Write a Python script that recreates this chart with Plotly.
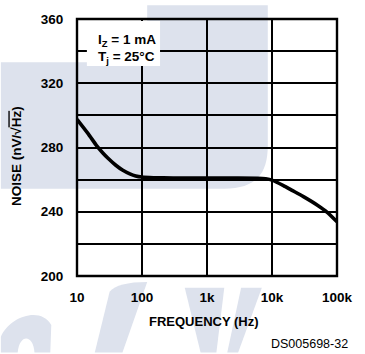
import plotly.graph_objects as go

# ---- data ----
freq_hz = [10, 15, 20, 25, 30, 40, 50, 65, 80, 100, 150, 300, 1000, 3000,
           6000, 8000, 10000, 15000, 20000, 30000, 50000, 70000, 100000]
noise_nv = [297.5, 288.3, 281.2, 276.6, 273.3, 268.8, 266, 263.6, 262.3, 261.6,
            261.2, 261, 261, 261, 260.9, 260.5, 259.7, 256.3, 253.5, 249.6,
            244.1, 239.8, 233.8]
x_tick_vals = [10, 100, 1000, 10000, 100000]
x_tick_text = ["10", "100", "1k", "10k", "100k"]
y_tick_vals = [200, 220, 240, 260, 280, 300, 320, 340, 360]
y_tick_text = ["200", "", "240", "", "280", "", "320", "", "360"]

W, H = 365, 354
L, R, T, B = 77, 25, 14, 78
PW, PH = W - L - R, H - T - B

def px(x):
    return (x - L) / PW

def py(y):
    return (H - B - y) / PH

FONT = "Liberation Sans, Arial, sans-serif"
WM = "#dde2ed"

fig = go.Figure()
fig.add_trace(go.Scatter(x=freq_hz, y=noise_nv, mode="lines",
                         line=dict(color="black", width=3.6, shape="spline", smoothing=0.5),
                         hoverinfo="skip", showlegend=False))

def P(x, y):
    return f"{px(x):.4f},{py(y):.4f}"

shapes = []
# watermark regions (decorative background)
wm_paths = [
    f"M{P(0,58)} L{P(148,58)} L{P(148,0)} L{P(270,0)} L{P(270,143)} C{P(270,172)} {P(258,187)} {P(226,187)} L{P(0,187)} Z",
    f"M{P(0,338)} C{P(8,318)} {P(40,306)} {P(51,326)} L{P(50,354)} L{P(34,354)} C{P(33,336)} {P(19,334)} {P(17,354)} L{P(0,354)} Z",
    f"M{P(110,292)} Q{P(118,282)} {P(148,282)} L{P(123,354)} L{P(95,354)} Z",
    f"M{P(186,288)} L{P(226,288)} L{P(218,354)} L{P(202,354)} Z",
    f"M{P(243,288)} L{P(264,288)} L{P(240,354)} L{P(229,354)} Z",
]
for p in wm_paths:
    shapes.append(dict(type="path", path=p, xref="paper", yref="paper",
                       fillcolor=WM, line=dict(width=0), layer="below"))
# white label box over grid
shapes.append(dict(type="rect", xref="paper", yref="paper",
                   x0=px(87), x1=px(161), y0=py(62), y1=py(16),
                   fillcolor="white", line=dict(width=0), layer="above"))
# plot frame
shapes.append(dict(type="rect", xref="paper", yref="paper", x0=0, x1=1, y0=0, y1=1,
                   line=dict(color="black", width=2.4), fillcolor="rgba(0,0,0,0)", layer="above"))

tickfont = dict(family=FONT, size=13.5, color="black", weight="bold")

fig.update_layout(
    width=W, height=H,
    margin=dict(l=L, r=R, t=T, b=B),
    paper_bgcolor="white", plot_bgcolor="rgba(0,0,0,0)",
    shapes=shapes,
    xaxis=dict(type="log", range=[1, 5], tickmode="array", tickvals=x_tick_vals, ticktext=x_tick_text,
               showgrid=True, gridcolor="#000000", gridwidth=1.5,
               showline=False,
               ticks="outside", ticklen=9, tickcolor="rgba(0,0,0,0)",
               tickfont=tickfont, zeroline=False),
    yaxis=dict(range=[200, 360], tickmode="array", tickvals=y_tick_vals, ticktext=y_tick_text,
               showgrid=True, gridcolor="#000000", gridwidth=1.5,
               showline=False,
               ticks="outside", ticklen=10, tickcolor="rgba(0,0,0,0)",
               tickfont=tickfont, zeroline=False),
    annotations=[
        dict(text="<b>I<sub>Z</sub> = 1 mA</b>", xref="paper", yref="paper",
             x=px(96), y=py(36), xanchor="left", yanchor="middle", showarrow=False,
             font=dict(family=FONT, size=13.5, color="black")),
        dict(text="<b>T<sub>j</sub> = 25°C</b>", xref="paper", yref="paper",
             x=px(96), y=py(53), xanchor="left", yanchor="middle", showarrow=False,
             font=dict(family=FONT, size=13.5, color="black")),
        dict(text="<b>FREQUENCY (Hz)</b>", xref="paper", yref="paper",
             x=px(205), y=py(322), xanchor="center", yanchor="middle", showarrow=False,
             font=dict(family=FONT, size=13, color="black")),
        dict(text="<b>NOISE (nV/√<span style='text-decoration:overline'>Hz</span>)</b>",
             xref="paper", yref="paper", textangle=-90,
             x=px(16), y=py(154), xanchor="center", yanchor="middle", showarrow=False,
             font=dict(family=FONT, size=13.5, color="black")),
        dict(text="DS005698-32", xref="paper", yref="paper",
             x=px(353), y=py(345), xanchor="right", yanchor="middle", showarrow=False,
             font=dict(family=FONT, size=12.5, color="black")),
    ],
)

fig.write_html("out.html", config={"displayModeBar": False},
               post_script="document.body.style.margin='0';document.body.style.padding='0';")
